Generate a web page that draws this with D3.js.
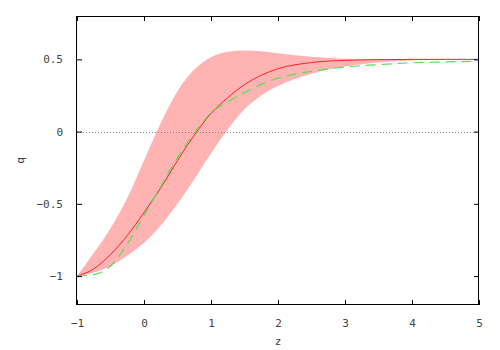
<!DOCTYPE html>
<html>
<head>
<meta charset="utf-8">
<script src="https://cdn.jsdelivr.net/npm/d3@7"></script>
<style>
  body { margin: 0; background: #fff; }
  text { font-family: 'DejaVu Sans Mono', monospace; font-size: 11px; fill: #444; }
</style>
</head>
<body>
<div id="chart"></div>
<script>
// values
const zs = [-1, -0.75, -0.5, -0.25, 0, 0.25, 0.5, 0.75, 1, 1.25, 1.5, 1.75, 2, 2.5, 3, 3.5, 4, 4.5, 5]
const qMean = [-1, -0.95, -0.85, -0.72, -0.56, -0.39, -0.2, -0.025, 0.125, 0.235, 0.325, 0.39, 0.435, 0.478, 0.493, 0.498, 0.5, 0.5, 0.5]
const qUpper = [-1, -0.84, -0.67, -0.46, -0.2, 0.06, 0.28, 0.43, 0.515, 0.553, 0.562, 0.556, 0.543, 0.518, 0.505, 0.501, 0.5, 0.5, 0.5]
const qLower = [-1, -0.975, -0.93, -0.86, -0.77, -0.65, -0.5, -0.33, -0.15, 0.015, 0.155, 0.25, 0.315, 0.4, 0.45, 0.478, 0.492, 0.498, 0.5]
const qDashed = [-1, -0.99, -0.93, -0.78, -0.58, -0.38, -0.18, -0.01, 0.13, 0.205, 0.27, 0.325, 0.37, 0.417, 0.447, 0.464, 0.476, 0.482, 0.488]
const xTicks = [-1, 0, 1, 2, 3, 4, 5]
const yTicks = [-1, -0.5, 0, 0.5]

const margin = { top: 16, right: 21, bottom: 45, left: 77 }
const width = 500 - margin.left - margin.right
const height = 350 - margin.top - margin.bottom

const svg = d3.select('#chart')
  .append('svg')
  .attr('width', 500)
  .attr('height', 350)
  .append('g')
  .attr('transform', 'translate(' + margin.left + ',' + margin.top + ')')

const x = d3.scaleLinear().domain([-1, 5]).range([0, width])
const y = d3.scaleLinear().domain([-1.2, 0.8]).range([height, 0])

const rows = zs.map(function (z, i) {
  return { z: z, mean: qMean[i], up: qUpper[i], lo: qLower[i], dash: qDashed[i] }
})

// shaded band
svg.append('path')
  .datum(rows)
  .attr('fill', '#ffb3b3')
  .attr('d', d3.area()
    .curve(d3.curveMonotoneX)
    .x(function (d) { return x(d.z) })
    .y0(function (d) { return y(d.lo) })
    .y1(function (d) { return y(d.up) }))

// zero line
svg.append('line')
  .attr('x1', 0).attr('x2', width)
  .attr('y1', Math.round(y(0)) + 0.5).attr('y2', Math.round(y(0)) + 0.5)
  .attr('stroke', '#888')
  .attr('stroke-dasharray', '1,2')

svg.append('path')
  .datum(rows)
  .attr('fill', 'none')
  .attr('stroke', '#ff2020')
  .attr('stroke-width', 1)
  .attr('d', d3.line()
    .curve(d3.curveMonotoneX)
    .x(function (d) { return x(d.z) })
    .y(function (d) { return y(d.mean) }))

svg.append('path')
  .datum(rows)
  .attr('fill', 'none')
  .attr('stroke', '#55e055')
  .attr('stroke-width', 1.2)
  .attr('stroke-dasharray', '10,6')
  .attr('d', d3.line()
    .curve(d3.curveMonotoneX)
    .x(function (d) { return x(d.z) })
    .y(function (d) { return y(d.dash) }))

// axes, ticks inward and mirrored like gnuplot
svg.append('g')
  .attr('transform', 'translate(0,' + height + ')')
  .call(d3.axisBottom(x).tickValues(xTicks).tickSizeInner(-5).tickSizeOuter(0).tickPadding(14)
    .tickFormat(function (d) { return d < 0 ? '\u2212' + Math.abs(d) : d }))
svg.append('g')
  .call(d3.axisTop(x).tickValues(xTicks).tickSizeInner(-5).tickSizeOuter(0).tickFormat(''))
svg.append('g')
  .call(d3.axisLeft(y).tickValues(yTicks).tickSizeInner(-5).tickSizeOuter(0).tickPadding(14)
    .tickFormat(function (d) { return d < 0 ? '\u2212' + Math.abs(d) : d }))
svg.append('g')
  .attr('transform', 'translate(' + width + ',0)')
  .call(d3.axisRight(y).tickValues(yTicks).tickSizeInner(-5).tickSizeOuter(0).tickFormat(''))

svg.selectAll('.domain').remove()
svg.selectAll('.tick line').attr('stroke', '#000')
svg.selectAll('.tick text').attr('fill', '#444').attr('font-size', 11)
  .attr('font-family', "'DejaVu Sans Mono', monospace")

svg.append('rect')
  .attr('x', -0.5).attr('y', 0.5)
  .attr('width', width).attr('height', height - 1)
  .attr('fill', 'none')
  .attr('stroke', '#000')

svg.append('text')
  .attr('x', width / 2)
  .attr('y', height + 40)
  .attr('text-anchor', 'middle')
  .text('z')

svg.append('text')
  .attr('transform', 'translate(' + (24 - margin.left) + ',' + (y(-0.2)) + ') rotate(-90)')
  .attr('text-anchor', 'middle')
  .text('q')
</script>
</body>
</html>
